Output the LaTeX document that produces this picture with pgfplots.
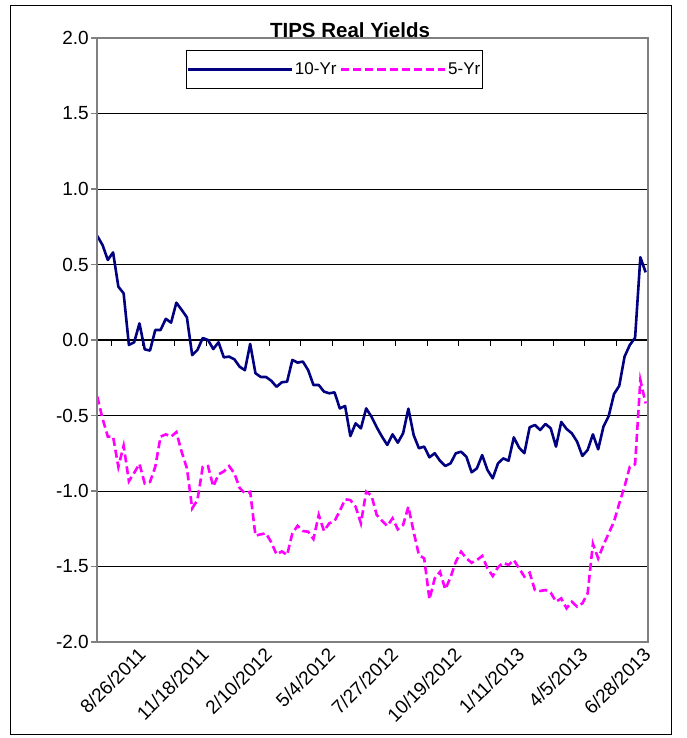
\documentclass[border=0pt]{standalone}
\usepackage{fontspec}
\setmainfont{Liberation Sans}
\usepackage{pgfplots}
\pgfplotsset{compat=1.18}
\usepackage{pgfplotstable}

\definecolor{tenyr}{RGB}{0,0,128}
\definecolor{fiveyr}{RGB}{255,0,255}
\definecolor{framegray}{RGB}{128,128,128}

\pgfplotstableread{
i ten five
0 0.689 -0.375
1 0.629 -0.52
2 0.53 -0.64
3 0.58 -0.64
4 0.353 -0.84
5 0.309 -0.70
6 -0.033 -0.935
7 -0.015 -0.88
8 0.11 -0.82
9 -0.062 -0.95
10 -0.07 -0.94
11 0.066 -0.84
12 0.066 -0.64
13 0.14 -0.625
14 0.115 -0.64
15 0.247 -0.61
16 0.2 -0.74
17 0.15 -0.85
18 -0.1 -1.115
19 -0.066 -1.06
20 0.013 -0.84
21 0.0 -0.835
22 -0.06 -0.97
23 -0.015 -0.89
24 -0.115 -0.87
25 -0.11 -0.835
26 -0.128 -0.883
27 -0.177 -0.98
28 -0.2 -1.015
29 -0.026 -1.005
30 -0.22 -1.296
31 -0.245 -1.287
32 -0.245 -1.28
33 -0.27 -1.34
34 -0.31 -1.42
35 -0.28 -1.40
36 -0.276 -1.424
37 -0.132 -1.28
38 -0.15 -1.23
39 -0.143 -1.265
40 -0.2 -1.27
41 -0.298 -1.318
42 -0.298 -1.159
43 -0.342 -1.265
44 -0.353 -1.214
45 -0.347 -1.199
46 -0.453 -1.132
47 -0.437 -1.055
48 -0.636 -1.06
49 -0.552 -1.104
50 -0.585 -1.214
51 -0.453 -1.005
52 -0.508 -1.03
53 -0.578 -1.159
54 -0.64 -1.197
55 -0.695 -1.232
56 -0.625 -1.181
57 -0.68 -1.254
58 -0.618 -1.225
59 -0.455 -1.104
60 -0.629 -1.27
61 -0.717 -1.424
62 -0.706 -1.446
63 -0.777 -1.717
64 -0.75 -1.579
65 -0.8 -1.535
66 -0.834 -1.651
67 -0.817 -1.572
68 -0.75 -1.468
69 -0.74 -1.402
70 -0.773 -1.446
71 -0.876 -1.475
72 -0.85 -1.457
73 -0.762 -1.43
74 -0.861 -1.512
75 -0.916 -1.563
76 -0.817 -1.505
77 -0.784 -1.475
78 -0.8 -1.49
79 -0.645 -1.457
80 -0.713 -1.512
81 -0.75 -1.567
82 -0.578 -1.541
83 -0.563 -1.656
84 -0.596 -1.662
85 -0.556 -1.656
86 -0.585 -1.673
87 -0.706 -1.733
88 -0.543 -1.711
89 -0.589 -1.777
90 -0.618 -1.733
91 -0.673 -1.766
92 -0.768 -1.744
93 -0.728 -1.678
94 -0.625 -1.35
95 -0.724 -1.446
96 -0.574 -1.358
97 -0.503 -1.28
98 -0.358 -1.203
99 -0.303 -1.082
100 -0.11 -0.971
101 -0.033 -0.839
102 0.015 -0.823
103 0.548 -0.265
104 0.448 -0.42
}\tips

\newcommand{\lblfont}{\fontsize{19bp}{22bp}\selectfont}

\begin{document}
\begin{tikzpicture}[x=1bp,y=1bp]
\useasboundingbox (0,0) rectangle (687,738);
\draw[black, line width=1bp] (10,3) rectangle (671,732);
\node[font=\fontsize{20.5bp}{23bp}\selectfont\bfseries] at (350,708) {TIPS Real Yields};

\begin{axis}[
  at={(97bp,96bp)}, anchor=south west,
  scale only axis, width=551bp, height=604bp,
  xmin=-0.05, xmax=104.45, ymin=-2, ymax=2,
  axis x line*=middle, axis y line*=left,
  x axis line style={black, line width=1bp},
  y axis line style={draw=none},
  xtick={2.685,8.67,14.655,20.64,26.625,32.61,38.595,44.58,50.565,56.55,62.535,68.52,74.505,80.49,86.475,92.46,98.445,104.43},
  xticklabels={},
  x tick style={black, line width=1bp},
  y tick style={framegray, line width=1.5bp},
  major tick length=6bp,
  tick align=outside,
  ytick={-2,-1.5,-1,-0.5,0,0.5,1,1.5,2},
  yticklabels={-2.0,-1.5,-1.0,-0.5,0.0,0.5,1.0,1.5,2.0},
  yticklabel style={font=\lblfont, inner sep=2bp},
  ymajorgrids,
  grid style={black, line width=0.8bp},
  legend style={at={(0.1615,0.980)}, anchor=north west, draw=black, line width=0.8bp,
    fill=white, font=\fontsize{17bp}{20bp}\selectfont, inner xsep=0bp, inner ysep=10.5bp,
    nodes={inner sep=2bp},
    /tikz/every even column/.append style={column sep=1bp}},
  legend columns=2,
  legend cell align=left,
  legend image code/.code={\path (0bp,0bp) -- (37bp,0bp); \draw[#1] (37bp,0bp) -- (104bp,0bp);},
  clip=false,
]
\addplot[tenyr, line width=2.6bp, line join=round] table[x=i, y=ten] {\tips};
\addlegendentry{10-Yr}
\addplot[fiveyr, line width=2.6bp, dash pattern=on 8bp off 4bp] table[x=i, y=five] {\tips};
\addlegendentry{5-Yr}
\draw[framegray, line width=2.2bp] (rel axis cs:0,0) rectangle (rel axis cs:1,1);
\end{axis}

\begin{axis}[
  at={(97bp,96bp)}, anchor=south west,
  scale only axis, width=551bp, height=604bp,
  xmin=-0.05, xmax=104.45, ymin=-2, ymax=2,
  axis y line=none, axis x line*=bottom,
  x axis line style={draw=none},
  major tick length=0bp,
  xtick={8.67,20.64,32.61,44.58,56.55,68.52,80.49,92.46,104.43},
  xticklabels={8/26/2011,11/18/2011,2/10/2012,5/4/2012,7/27/2012,10/19/2012,1/11/2013,4/5/2013,6/28/2013},
  xticklabel style={rotate=45, anchor=east, font=\lblfont, inner sep=1bp, yshift=-6bp, xshift=-6bp},
]
\addplot[draw=none] coordinates {(0,0)};
\end{axis}
\end{tikzpicture}
\end{document}
